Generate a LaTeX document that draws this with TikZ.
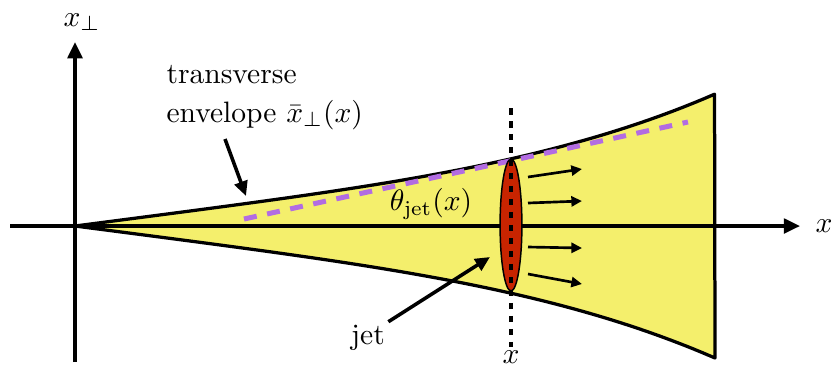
\documentclass[tikz,border=0pt]{standalone}
\usetikzlibrary{arrows.meta,shapes.geometric}
\definecolor{jetyellow}{RGB}{244,239,108}
\definecolor{jetred}{RGB}{200,36,0}
\definecolor{envpurple}{RGB}{178,108,226}

\begin{document}
\begin{tikzpicture}[x=0.0119cm, y=-0.0119cm,
  axis/.style={line width=1.1pt, -{Triangle[length=5.5pt,width=5pt]}},
  pointer/.style={line width=1.2pt, -{Triangle[length=5pt,width=4.5pt]}},
  flow/.style={line width=0.9pt, -{Triangle[length=3.6pt,width=3.4pt]}},
  lab/.style={inner sep=1pt}]
\useasboundingbox (0,0) rectangle (834,367);

% Envelope
\filldraw[fill=jetyellow, line width=1.1pt, line join=round]
  plot[domain=0:1, samples=60] ({75+640*\x}, {226-83.2*\x-48.8*\x^4})
  -- plot[domain=1:0, samples=60] ({75+640*\x}, {226+83.2*\x+48.8*\x^4}) -- cycle;

% Axes
\coordinate (O) at (75,226);
\node[lab] (xaxis) at (824,226) {$x$};
\node[lab] (xperp) at (82,22) {$x_\perp$};
\draw[axis] (10,226) -- (800,226);
\draw[axis] (75,362) -- (75,42);

% Transverse envelope
\draw[envpurple, line width=1.7pt, dash pattern=on 4.4pt off 3.6pt] (244,219) -- (688,122);
\node[lab, align=left, anchor=north west] (envlab) at (163,62) {transverse\\[1pt]envelope $\bar{x}_\perp(x)$};
\coordinate (envtip) at (246,196);
\draw[pointer] ([shift={(62,6)}]envlab.south west) -- (envtip);
\node[lab] (theta) at (431,204) {$\theta_{\mathrm{jet}}(x)$};

% Jet
\node[draw, ellipse, fill=jetred, line width=0.5pt, inner sep=0pt,
  minimum width=0.26cm, minimum height=1.57cm] (jet) at (511,225) {};
\node[lab] (xcut) at (511,357) {$x$};
\draw[line width=1.2pt, dash pattern=on 2.2pt off 2.2pt] (511,108) -- (xcut.north);
\foreach \ya/\yb in {177/169, 203/201, 247/248, 274/284}
  \draw[flow] (528,\ya) -- (582,\yb);
\node[lab] (jetlab) at (368,338) {jet};
\coordinate (jettip) at (490,257);
\draw[pointer] (jetlab.north east) -- (jettip);
\end{tikzpicture}
\end{document}
